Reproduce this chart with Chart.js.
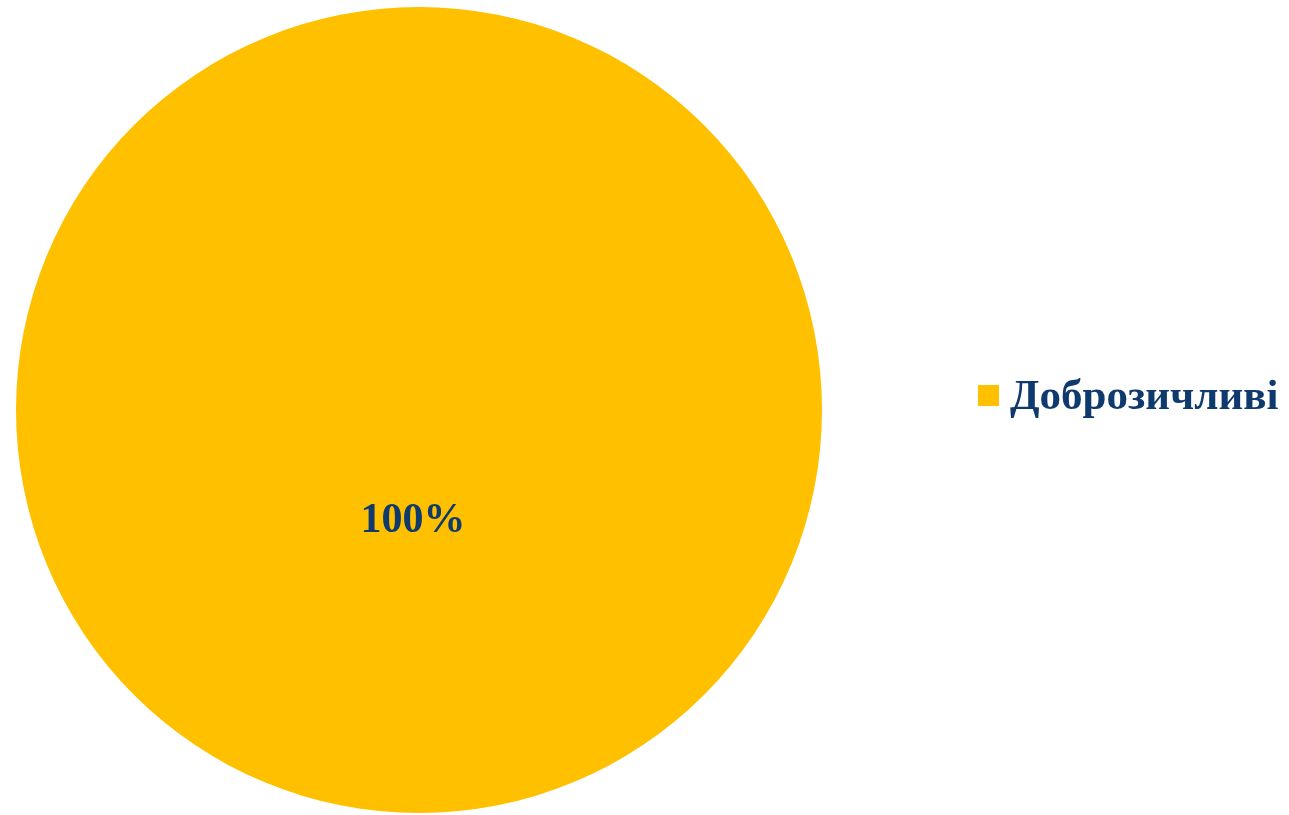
<!DOCTYPE html>
<html>
<head>
<meta charset="utf-8">
<script src="https://cdn.jsdelivr.net/npm/chart.js@4"></script>
<style>
  html, body { margin: 0; padding: 0; background: #fff; }
  #wrap { width: 1289px; height: 815px; }
</style>
</head>
<body>
<div id="wrap"><canvas id="grafico"></canvas></div>
<script>
var categorias = ["Доброзичливі"];
var valores = [100];
var colores = ["#FFC000"];
var etiquetas = ["100%"];

var colorTexto = "#0F3A6E";
var fuenteEtiqueta = "bold 42px 'Liberation Serif', 'Times New Roman', serif";
var fuenteLeyenda = "bold 43px 'Liberation Serif', 'Times New Roman', serif";

// etiqueta del porcentaje dentro del sector
var pluginEtiquetas = {
  id: "etiquetas",
  afterDatasetsDraw: function(chart) {
    var ctx = chart.ctx;
    var meta = chart.getDatasetMeta(0);
    meta.data.forEach(function(arc, i) {
      var p = arc.getProps(["x", "y", "startAngle", "endAngle", "outerRadius"], true);
      var medio = (p.startAngle + p.endAngle) / 2;
      var r = p.outerRadius * 0.27;
      ctx.save();
      ctx.font = fuenteEtiqueta;
      ctx.fillStyle = colorTexto;
      ctx.textAlign = "center";
      ctx.textBaseline = "middle";
      ctx.fillText(etiquetas[i], p.x + Math.cos(medio) * r - 6, p.y + Math.sin(medio) * r + 2);
      ctx.restore();
    });
  }
};

// leyenda a la derecha
var pluginLeyenda = {
  id: "leyenda",
  afterDraw: function(chart) {
    var ctx = chart.ctx;
    var area = chart.chartArea;
    var x = area.right + 156;
    var y = (area.top + area.bottom) / 2 - 15;
    chart.data.labels.forEach(function(lab, i) {
      ctx.save();
      ctx.fillStyle = chart.data.datasets[0].backgroundColor[i];
      ctx.fillRect(x, y - 10, 21, 21);
      ctx.font = fuenteLeyenda;
      ctx.fillStyle = colorTexto;
      ctx.textAlign = "left";
      ctx.textBaseline = "middle";
      ctx.fillText(lab, x + 32, y + 3);
      ctx.restore();
    });
  }
};

new Chart(document.getElementById("grafico"), {
  type: "pie",
  data: {
    labels: categorias,
    datasets: [{
      data: valores,
      backgroundColor: colores,
      borderWidth: 0
    }]
  },
  options: {
    responsive: true,
    maintainAspectRatio: false,
    animation: false,
    layout: { padding: { left: 16, right: 467, top: 6, bottom: 1 } },
    plugins: {
      legend: { display: false },
      tooltip: { enabled: false }
    }
  },
  plugins: [pluginEtiquetas, pluginLeyenda]
});
</script>
</body>
</html>
